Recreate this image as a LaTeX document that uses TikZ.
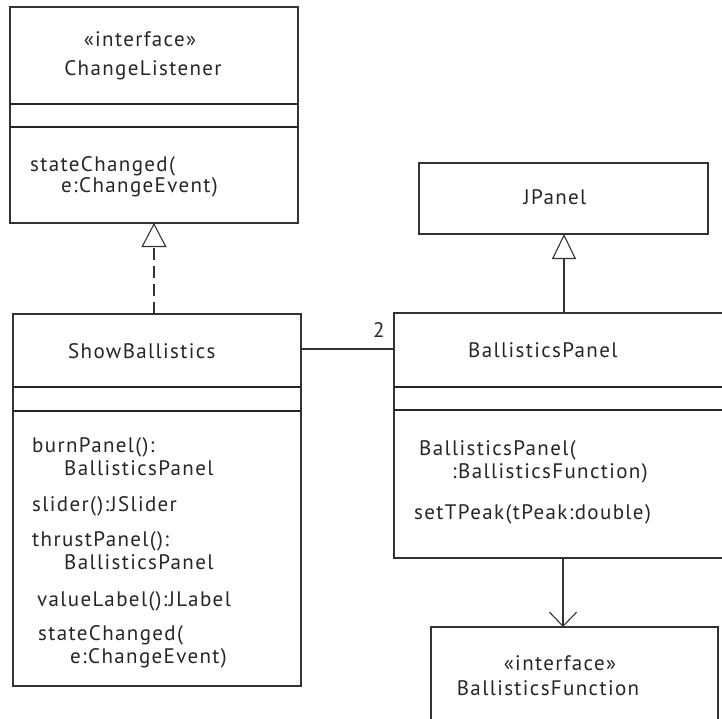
\documentclass[tikz,border=0pt]{standalone}
\usepackage{fontspec}
\setmainfont[LetterSpace=6.5]{PT Sans}
\usetikzlibrary{arrows.meta}
\tikzset{
  umlbox/.style={draw=black!80, line width=1.1pt, fill=white, anchor=north west, inner sep=0pt, outer sep=0pt},
  sepline/.style={draw=black!85, line width=1.5pt},
  txt/.style={inner sep=0pt, anchor=base west, font=\fontsize{21}{24}\selectfont, text=black!85},
  ctxt/.style={inner sep=0pt, anchor=base, font=\fontsize{21}{24}\selectfont, text=black!85},
  conn/.style={draw=black!80, line width=1.1pt},
  realize/.style={conn, dash pattern=on 12pt off 6pt, -{Triangle[open, length=24pt, width=25pt, line width=1.1pt]}},
  inherit/.style={conn, -{Triangle[open, length=25pt, width=24pt, line width=1.1pt]}},
  navig/.style={conn, -{Straight Barb[length=14pt, width=27pt, line width=1.1pt]}}
}
\begin{document}
\begin{tikzpicture}[x=1pt, y=-1pt]
\useasboundingbox (0,0) rectangle (722,719);
\clip (0,0) rectangle (722,719);
% ChangeListener
\node[umlbox, minimum width=288pt, minimum height=216pt] (cl) at (10,7) {};
\draw[sepline] (10,104) -- (298,104);
\draw[sepline] (10,127) -- (298,127);
\node[ctxt] (clst) at (140,47) {«interface»};
\node[ctxt] (clnm) at (143,76) {ChangeListener};
\node[txt] (clm1) at (30,172) {stateChanged(};
\node[txt] (clm2) at (61,193) {e:ChangeEvent)};
% ShowBallistics
\node[umlbox, minimum width=288pt, minimum height=372pt] (sb) at (13,314) {};
\draw[sepline] (13,387) -- (301,387);
\draw[sepline] (13,411) -- (301,411);
\node[txt] (sbnm) at (68,358) {ShowBallistics};
\node[txt] (sbm1) at (32,452) {burnPanel():};
\node[txt] (sbm2) at (64,475) {BallisticsPanel};
\node[txt] (sbm3) at (32,511) {slider():JSlider};
\node[txt] (sbm4) at (32,546) {thrustPanel():};
\node[txt] (sbm5) at (64,569) {BallisticsPanel};
\node[txt] (sbm6) at (37,606) {valueLabel():JLabel};
\node[txt] (sbm7) at (38,640) {stateChanged(};
\node[txt] (sbm8) at (70,663) {e:ChangeEvent)};
% JPanel
\node[umlbox, minimum width=289pt, minimum height=71pt] (jp) at (419,163) {};
\node[ctxt] (jpnm) at (555,205) {JPanel};
% BallisticsPanel
\node[umlbox, minimum width=340pt, minimum height=245pt] (bp) at (394,313) {};
\draw[sepline] (394,387) -- (722,387);
\draw[sepline] (394,410) -- (722,410);
\node[txt] (bpnm) at (468,357) {BallisticsPanel};
\node[txt] (bpm1) at (419,455) {BallisticsPanel(};
\node[txt] (bpm2) at (452,478) {:BallisticsFunction)};
\node[txt] (bpm3) at (414,519) {setTPeak(tPeak:double)};
% BallisticsFunction
\node[umlbox, minimum width=287pt, minimum height=120pt] (bf) at (431,627) {};
\node[ctxt] (bfst) at (560,670) {«interface»};
\node[ctxt] (bfnm) at (548,695) {BallisticsFunction};
% connectors
\coordinate (sbtop) at (154,314);
\coordinate (cltop) at (154,223);
\draw[realize] (sbtop) -- (cltop);
\coordinate (bptop) at (564,313);
\coordinate (jpbot) at (564,234);
\draw[inherit] (bptop) -- (jpbot);
\coordinate (bpbot) at (563,558);
\coordinate (bftop) at (563,627);
\draw[navig] (bpbot) -- (bftop);
\coordinate (sbr) at (301,349);
\coordinate (bpl) at (394,349);
\draw[conn] (sbr) -- (bpl);
\node[txt] (mult) at (373,337) {2};
\end{tikzpicture}
\end{document}
